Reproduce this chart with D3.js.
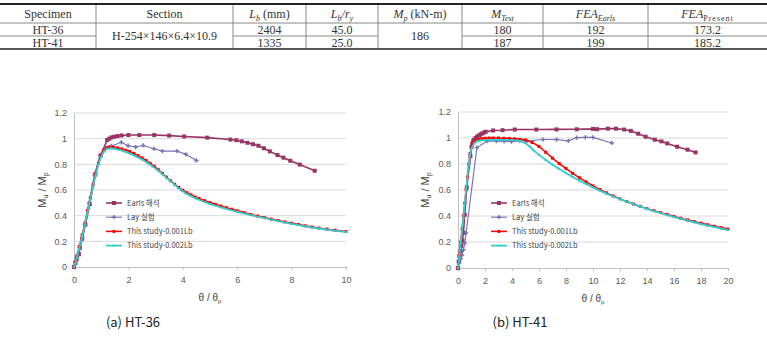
<!DOCTYPE html>
<html>
<head>
<meta charset="utf-8">
<script src="https://cdn.jsdelivr.net/npm/d3@7"></script>
<style>
  body { margin: 0; background: #fff; }
  svg { display: block; }
</style>
</head>
<body>
<div id="main"></div>
<script>
// ---- table data ----
const specimens = ["HT-36", "HT-41"]
const sectionName = "H-254×146×6.4×10.9"
const lbValues = ["2404", "1335"]
const lbryValues = ["45.0", "25.0"]
const mpValue = "186"
const mTestValues = ["180", "187"]
const feaEarlsValues = ["192", "199"]
const feaPresentValues = ["173.2", "185.2"]

// ---- chart data (theta/theta_p , Mu/Mp) ----
const seriesNames = ["Earls 해석", "Lay 실험", "This study-0.001Lb", "This study-0.002Lb"]

const ht36Earls = [[0,0],[0.05,0.03],[0.1,0.06],[0.18,0.1],[0.22,0.15],[0.3,0.22],[0.42,0.33],[0.58,0.49],[0.78,0.72],[0.98,0.87],[1.22,0.99],[1.3,1.0],[1.38,1.01],[1.48,1.015],[1.6,1.02],[1.75,1.025],[2.0,1.028],[2.4,1.028],[2.95,1.028],[3.5,1.024],[4.05,1.017],[4.9,1.008],[5.75,0.993],[5.97,0.988],[6.17,0.979],[6.38,0.968],[6.58,0.957],[6.78,0.945],[6.98,0.925],[7.2,0.901],[7.48,0.872],[7.7,0.852],[7.95,0.828],[8.3,0.798],[8.85,0.75]]
const ht36Lay = [[0,0],[0.05,0.04],[0.12,0.09],[0.2,0.15],[0.3,0.22],[0.4,0.33],[0.55,0.5],[0.75,0.72],[0.95,0.87],[1.15,0.92],[1.38,0.943],[1.74,0.972],[1.99,0.945],[2.27,0.935],[2.54,0.947],[2.94,0.922],[3.25,0.903],[3.79,0.903],[4.11,0.878],[4.5,0.83]]
const ht36Fea1 = [[0,0],[0.05,0.04],[0.1,0.08],[0.2,0.16],[0.3,0.25],[0.4,0.34],[0.5,0.44],[0.6,0.54],[0.7,0.64],[0.8,0.73],[0.9,0.81],[1.0,0.87],[1.1,0.91],[1.2,0.93],[1.3,0.935],[1.45,0.933],[1.6,0.928],[1.75,0.92],[1.9,0.91],[2.05,0.9],[2.2,0.885],[2.35,0.868],[2.5,0.85],[2.65,0.83],[2.8,0.808],[2.95,0.785],[3.1,0.758],[3.25,0.73],[3.4,0.7],[3.55,0.672],[3.7,0.645],[3.85,0.62],[4.0,0.598],[4.15,0.579],[4.3,0.562],[4.45,0.546],[4.6,0.533],[4.8,0.517],[5.0,0.502],[5.2,0.488],[5.4,0.475],[5.6,0.462],[5.8,0.45],[6.0,0.438],[6.25,0.424],[6.5,0.41],[6.75,0.397],[7.0,0.385],[7.25,0.373],[7.5,0.362],[7.75,0.351],[8.0,0.341],[8.25,0.331],[8.5,0.321],[8.75,0.312],[9.0,0.304],[9.3,0.295],[9.6,0.287],[10,0.277]]
const ht36Fea2 = [[0,0],[0.05,0.03],[0.1,0.07],[0.2,0.15],[0.3,0.24],[0.4,0.33],[0.5,0.43],[0.6,0.53],[0.7,0.63],[0.8,0.72],[0.9,0.8],[1.0,0.86],[1.1,0.9],[1.2,0.92],[1.35,0.925],[1.5,0.92],[1.7,0.91],[1.9,0.897],[2.1,0.88],[2.3,0.86],[2.5,0.838],[2.7,0.812],[2.9,0.782],[3.1,0.75],[3.3,0.715],[3.5,0.677],[3.7,0.64],[3.9,0.605],[4.1,0.575],[4.3,0.552],[4.5,0.532],[5.0,0.49],[5.5,0.458],[6.0,0.43],[6.5,0.404],[7.0,0.38],[7.5,0.357],[8.0,0.336],[8.5,0.317],[9.0,0.3],[9.5,0.285],[10,0.272]]

const ht41Earls = [[0,0],[0.05,0.05],[0.1,0.09],[0.18,0.13],[0.25,0.17],[0.33,0.21],[0.4,0.27],[0.5,0.41],[0.65,0.62],[0.92,0.86],[1.0,0.93],[1.05,0.956],[1.12,0.975],[1.2,0.987],[1.31,1.0],[1.43,1.012],[1.56,1.02],[1.68,1.028],[1.8,1.035],[1.93,1.042],[2.05,1.048],[2.6,1.058],[3.3,1.06],[4.2,1.065],[5.8,1.065],[7.3,1.066],[8.8,1.067],[10.0,1.07],[10.3,1.068],[11.1,1.072],[11.7,1.072],[12.3,1.065],[12.8,1.055],[13.35,1.033],[13.9,1.01],[14.58,0.987],[15.07,0.974],[15.5,0.958],[16.23,0.933],[17.0,0.91],[17.6,0.889]]
const ht41Lay = [[0,0],[0.1,0.04],[0.2,0.07],[0.3,0.1],[0.4,0.14],[0.5,0.19],[0.6,0.27],[1.4,0.926],[2.15,0.976],[2.85,0.976],[3.42,0.974],[3.96,0.972],[4.58,0.978],[5.1,0.977],[6.3,0.988],[7.3,0.988],[8.17,0.978],[8.79,1.003],[9.43,1.005],[10.0,1.005],[11.39,0.962]]
const ht41Fea1 = [[0,0],[0.05,0.05],[0.1,0.1],[0.2,0.2],[0.3,0.3],[0.4,0.4],[0.5,0.5],[0.6,0.6],[0.7,0.7],[0.8,0.8],[0.9,0.88],[1.0,0.93],[1.15,0.965],[1.3,0.98],[1.5,0.99],[1.75,0.995],[2.0,0.998],[2.3,1.0],[2.6,1.0],[3.0,1.0],[3.4,0.998],[3.8,0.996],[4.2,0.994],[4.6,0.99],[5.0,0.985],[5.5,0.965],[6.0,0.935],[6.5,0.89],[7.0,0.845],[7.5,0.803],[8.0,0.765],[8.5,0.728],[9.0,0.694],[9.5,0.662],[10.0,0.632],[10.5,0.604],[11.0,0.578],[11.5,0.554],[12.0,0.532],[12.5,0.511],[13.0,0.492],[13.5,0.474],[14.0,0.457],[14.5,0.441],[15.0,0.426],[15.5,0.411],[16.0,0.397],[16.5,0.383],[17.0,0.37],[17.5,0.357],[18.0,0.345],[18.5,0.333],[19.0,0.321],[19.5,0.31],[20,0.3]]
const ht41Fea2 = [[0,0],[0.1,0.09],[0.2,0.19],[0.4,0.39],[0.6,0.6],[0.8,0.8],[0.9,0.87],[1.0,0.92],[1.2,0.96],[1.4,0.975],[1.7,0.982],[2.2,0.985],[3.0,0.985],[4.0,0.983],[4.6,0.978],[5.0,0.96],[5.3,0.935],[5.6,0.905],[6.0,0.87],[6.5,0.83],[7.0,0.795],[7.5,0.762],[8.0,0.73],[8.5,0.7],[9.0,0.672],[9.5,0.645],[10.0,0.62],[10.5,0.595],[11.0,0.572],[11.5,0.55],[12.0,0.53],[12.5,0.51],[13.0,0.49],[13.5,0.472],[14.0,0.455],[14.5,0.438],[15.0,0.422],[15.5,0.407],[16.0,0.392],[16.5,0.378],[17.0,0.364],[17.5,0.351],[18.0,0.338],[18.5,0.326],[19.0,0.314],[19.5,0.303],[20,0.292]]

const yTicks = [0, 0.2, 0.4, 0.6, 0.8, 1, 1.2]
const ht36XTicks = [0, 2, 4, 6, 8, 10]
const ht41XTicks = [0, 2, 4, 6, 8, 10, 12, 14, 16, 18, 20]

const styles = [
  {color: "#993366", width: 1.6, sym: d3.symbolSquare, size: 16},
  {color: "#7171b3", width: 1.1, sym: d3.symbolCross, size: 10},
  {color: "#ff0000", width: 1.5, sym: d3.symbolSquare, size: 9},
  {color: "#33cccc", width: 1.8, sym: d3.symbolTriangle, size: 4}
]

const svg = d3.select("#main").append("svg").attr("width", 767).attr("height", 347)
svg.append("rect").attr("width", 767).attr("height", 347).attr("fill", "#fff")

drawTable()
drawChart({x0: 74, x1: 346, y0: 267, y1: 113, xMax: 10, xTicks: ht36XTicks,
  series: [ht36Earls, ht36Lay, ht36Fea1, ht36Fea2], legendX: 106, legendY: 203,
  yTitleX: 46, caption: "(a) HT-36", captionX: 133})
drawChart({x0: 458, x1: 728, y0: 268, y1: 112, xMax: 20, xTicks: ht41XTicks,
  series: [ht41Earls, ht41Lay, ht41Fea1, ht41Fea2], legendX: 491, legendY: 203,
  yTitleX: 429, caption: "(b) HT-41", captionX: 520})

function drawTable()
{
  let g = svg.append("g").attr("font-family", "'Liberation Serif', 'DejaVu Serif', serif")
    .attr("font-size", 12).attr("fill", "#333")
  let cols = [0, 96, 233, 306, 378, 462, 543, 648, 767]
  let top = 4, hdr = 23, mid = 36, bot = 49

  // header cells: segments [text, italic, sub]
  let headers = [
    [["Specimen"]],
    [["Section"]],
    [["L", 1], ["b", 1, 1], [" (mm)"]],
    [["L", 1], ["b", 1, 1], ["/r", 1], ["y", 1, 1]],
    [["M", 1], ["p", 1, 1], [" (kN-m)"]],
    [["M", 1], ["Test", 1, 1]],
    [["FEA", 1], ["Earls", 1, 1]],
    [["FEA", 1], ["Present", 0, 1]]
  ]
  headers.forEach((segs, i) => {
    let t = g.append("text").attr("x", (cols[i] + cols[i + 1]) / 2).attr("y", (top + hdr) / 2 + 4)
      .attr("text-anchor", "middle")
    segs.forEach(s => {
      let ts = t.append("tspan").text(s[0])
      if (s[1]) ts.attr("font-style", "italic")
      if (s[2]) ts.attr("font-size", 8).attr("baseline-shift", "-3")
      if (s[2] && !s[1]) ts.attr("letter-spacing", 1)
    })
  })

  let rowY = [(hdr + mid) / 2 + 4, (mid + bot) / 2 + 4]
  let perRow = [specimens, null, lbValues, lbryValues, null, mTestValues, feaEarlsValues, feaPresentValues]
  perRow.forEach((vals, i) => {
    let cx = (cols[i] + cols[i + 1]) / 2
    if (vals) {
      vals.forEach((v, r) => g.append("text").attr("x", cx).attr("y", rowY[r]).attr("text-anchor", "middle").text(v))
    }
  })
  g.append("text").attr("x", (cols[1] + cols[2]) / 2).attr("y", (hdr + bot) / 2 + 4).attr("text-anchor", "middle").text(sectionName)
  g.append("text").attr("x", (cols[4] + cols[5]) / 2).attr("y", (hdr + bot) / 2 + 4).attr("text-anchor", "middle").text(mpValue)

  // lines
  g.append("line").attr("x1", 0).attr("x2", 767).attr("y1", top).attr("y2", top).attr("stroke", "#222").attr("stroke-width", 2)
  g.append("line").attr("x1", 0).attr("x2", 767).attr("y1", hdr).attr("y2", hdr).attr("stroke", "#888").attr("stroke-width", 1)
  let midCols = [[0, 1], [2, 4], [5, 8]]
  midCols.forEach(c => g.append("line").attr("x1", cols[c[0]]).attr("x2", cols[c[1]]).attr("y1", mid).attr("y2", mid)
    .attr("stroke", "#888").attr("stroke-width", 1))
  g.append("line").attr("x1", 0).attr("x2", 767).attr("y1", bot).attr("y2", bot).attr("stroke", "#222").attr("stroke-width", 1.5)
  cols.slice(1, -1).forEach(c => g.append("line").attr("x1", c).attr("x2", c).attr("y1", top + 1).attr("y2", bot - 1)
    .attr("stroke", "#888").attr("stroke-width", 1))
}

function drawChart(o)
{
  let g = svg.append("g").attr("font-family", "'Liberation Sans', Arial, sans-serif")
  let x = d3.scaleLinear().domain([0, o.xMax]).range([o.x0, o.x1])
  let y = d3.scaleLinear().domain([0, 1.2]).range([o.y0, o.y1])

  // grid
  g.selectAll(".grid").data(yTicks.slice(1)).enter().append("line")
    .attr("x1", o.x0).attr("x2", o.x1).attr("y1", d => y(d)).attr("y2", d => y(d))
    .attr("stroke", "#d9d9d9").attr("stroke-width", 1)

  let yAxis = g.append("g").attr("transform", "translate(" + o.x0 + ",0)")
    .call(d3.axisLeft(y).tickValues(yTicks).tickSize(0).tickPadding(7).tickFormat(d3.format("")))
  let xAxis = g.append("g").attr("transform", "translate(0," + o.y0 + ")")
    .call(d3.axisBottom(x).tickValues(o.xTicks).tickSize(3).tickPadding(7).tickFormat(d3.format("")))
  ;[yAxis, xAxis].forEach(a => {
    a.select(".domain").attr("stroke", "#bfbfbf")
    a.selectAll(".tick line").attr("stroke", "#bfbfbf")
    a.selectAll("text").attr("fill", "#595959").attr("font-size", 9).attr("font-family", "'Liberation Sans', Arial, sans-serif")
  })

  let line = d3.line().x(d => x(d[0])).y(d => y(d[1]))
  o.series.forEach((data, i) => {
    let st = styles[i]
    g.append("path").datum(data).attr("fill", "none").attr("stroke", st.color)
      .attr("stroke-width", st.width).attr("d", line)
    g.selectAll(".m" + i).data(data).enter().append("path")
      .attr("transform", d => "translate(" + x(d[0]) + "," + y(d[1]) + ")")
      .attr("d", d3.symbol().type(st.sym).size(st.size))
      .attr("fill", st.color)
  })

  // legend
  seriesNames.forEach((name, i) => {
    let st = styles[i]
    let ly = o.legendY + i * 14.2
    g.append("line").attr("x1", o.legendX).attr("x2", o.legendX + 16).attr("y1", ly).attr("y2", ly)
      .attr("stroke", st.color).attr("stroke-width", st.width)
    g.append("path").attr("transform", "translate(" + (o.legendX + 8) + "," + ly + ")")
      .attr("d", d3.symbol().type(st.sym).size(st.size)).attr("fill", st.color)
    g.append("text").attr("x", o.legendX + 21).attr("y", ly + 2.5).attr("font-size", 7.5)
      .attr("font-family", "'Noto Sans CJK KR', sans-serif").attr("fill", "#444").text(name)
  })

  // y title
  let yt = g.append("text").attr("transform", "translate(" + o.yTitleX + "," + ((o.y0 + o.y1) / 2) + ") rotate(-90)")
    .attr("text-anchor", "middle").attr("font-size", 11).attr("fill", "#404040")
  yt.append("tspan").text("M")
  yt.append("tspan").text("u").attr("font-size", 7).attr("baseline-shift", "-2")
  yt.append("tspan").text(" / M")
  yt.append("tspan").text("p").attr("font-size", 7).attr("baseline-shift", "-2")

  // x title
  let xt = g.append("text").attr("x", (o.x0 + o.x1) / 2).attr("y", o.y0 + 34)
    .attr("text-anchor", "middle").attr("font-size", 10).attr("fill", "#404040")
  xt.append("tspan").text("θ / θ")
  xt.append("tspan").text("p").attr("font-size", 6).attr("baseline-shift", "-2")

  // caption
  g.append("text").attr("x", o.captionX).attr("y", 327).attr("text-anchor", "middle")
    .attr("font-family", "'Noto Sans CJK KR', sans-serif").attr("font-size", 13).attr("fill", "#222")
    .text(o.caption)
}
</script>
</body>
</html>
